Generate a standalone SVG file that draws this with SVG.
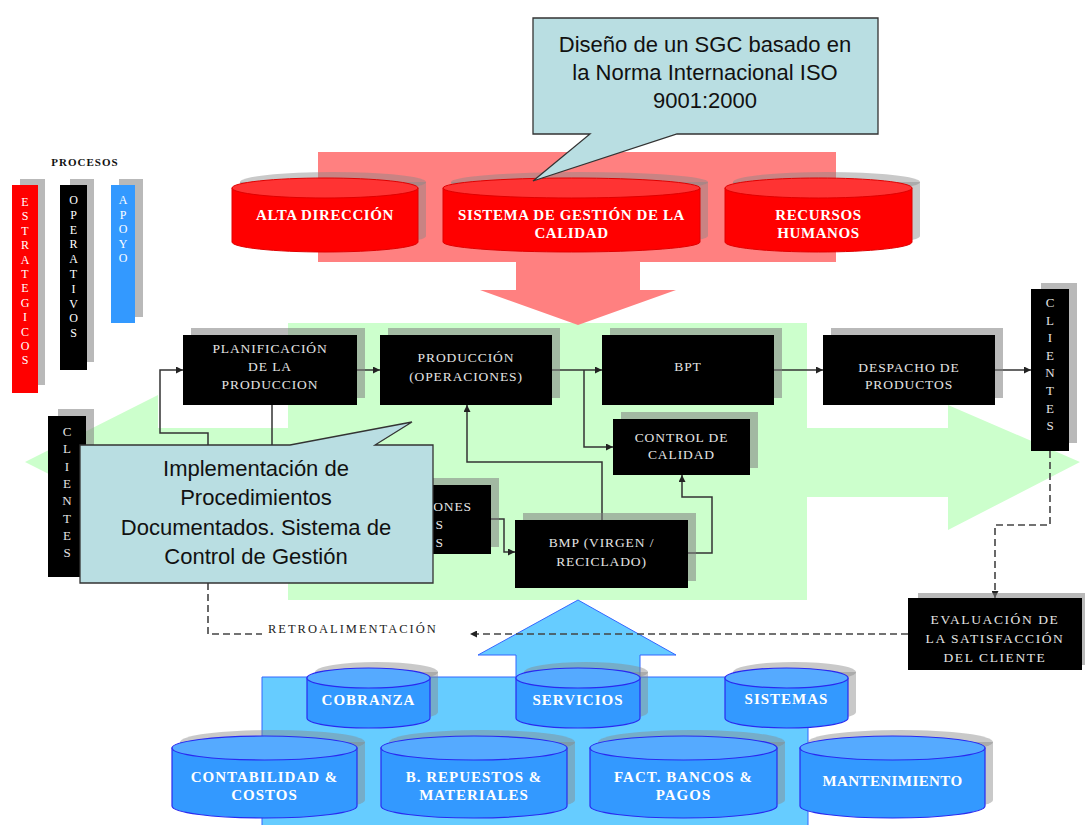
<svg xmlns="http://www.w3.org/2000/svg" width="1085" height="825" viewBox="0 0 1085 825">
  <defs>
    <style>
      .bg { fill: #ffffff; }
      .shadow { fill: #808080; opacity: 0.55; }
      .box { fill: #000000; }
      .boxtxt { font-family: "Liberation Serif", "DejaVu Serif", serif; font-size: 13.5px; fill: #e4e4e4; text-anchor: middle; letter-spacing: 0.9px; }
      .vert { font-family: "Liberation Serif", "DejaVu Serif", serif; font-size: 12px; fill: #ffffff; text-anchor: middle; }
      .vertc { font-family: "Liberation Serif", "DejaVu Serif", serif; font-size: 13px; fill: #e4e4e4; text-anchor: middle; }
      .redtxt { font-family: "Liberation Serif", "DejaVu Serif", serif; font-size: 15px; font-weight: bold; fill: #ffffff; text-anchor: middle; letter-spacing: 0.6px; }
      .bluetxt { font-family: "Liberation Serif", "DejaVu Serif", serif; font-size: 15px; font-weight: bold; fill: #ffffff; text-anchor: middle; letter-spacing: 1px; }
      .call { fill: #b9dee2; stroke: #333333; stroke-width: 1.3; }
      .calltxt { font-family: "Liberation Sans", Arial, sans-serif; font-size: 22px; fill: #111111; text-anchor: middle; }
      .conn { fill: none; stroke: #333333; stroke-width: 1.5; }
      .dash { fill: none; stroke: #444444; stroke-width: 1.6; stroke-dasharray: 7 4; }
      .redcyl { fill: #ff0000; stroke: #e00000; stroke-width: 1; }
      .redtop { fill: #ff3333; stroke: #e00000; stroke-width: 1; }
      .bluecyl { fill: #3399ff; stroke: #2a2af0; stroke-width: 1.2; }
      .bluetop { fill: #55aaff; stroke: #2a2af0; stroke-width: 1.2; }
      .cylshadow { fill: #888888; opacity: 0.45; }
    </style>
    <marker id="ah" viewBox="0 0 8 8" refX="8" refY="4" markerWidth="7" markerHeight="7" markerUnits="userSpaceOnUse" orient="auto">
      <path d="M0,0 L8,4 L0,8 Z" fill="#222222"/>
    </marker>
  </defs>

  <rect class="bg" x="0" y="0" width="1085" height="825"/>

  <!-- background block arrows -->
  <g id="green-area">
    <rect x="288" y="323" width="519" height="277" fill="#ccffcc"/>
    <path d="M25,462 L158,395 V428 H948 V405 L1080,462 L948,530 V497 H158 V529 Z" fill="#ccffcc"/>
  </g>
  <g id="red-arrow">
    <path d="M318,152 H836 V262 H640 V290 H676 L578,325 L480,290 H516 V262 H318 Z" fill="#ff8080"/>
  </g>
  <g id="blue-arrow">
    <path d="M262,830 V677 H516 V655 H478 L578,600 L676,655 H640 V677 H808 V830 Z" fill="#66ccff" stroke="#3366ff" stroke-width="1"/>
  </g>

  <!-- legend -->
  <g id="legend">
    <text x="85" y="166" font-family="Liberation Serif, serif" font-size="11px" font-weight="bold" fill="#111" text-anchor="middle" letter-spacing="1">PROCESOS</text>
  </g>
  <g id="estrategicos">
    <rect class="shadow" x="20" y="179" width="25" height="206"/>
    <rect x="12" y="185" width="26" height="208" fill="#ff0000"/>
    <text class="vert" x="25"><tspan x="25" y="206">E</tspan><tspan x="25" y="220.4">S</tspan><tspan x="25" y="234.8">T</tspan><tspan x="25" y="249.2">R</tspan><tspan x="25" y="263.6">A</tspan><tspan x="25" y="278">T</tspan><tspan x="25" y="292.4">E</tspan><tspan x="25" y="306.8">G</tspan><tspan x="25" y="321.2">I</tspan><tspan x="25" y="335.6">C</tspan><tspan x="25" y="350">O</tspan><tspan x="25" y="364.4">S</tspan></text>
  </g>
  <g id="operativos">
    <rect class="shadow" x="70" y="179" width="24" height="183"/>
    <rect x="60" y="185" width="27" height="185" fill="#000000"/>
    <text class="vert" x="73.5"><tspan x="73.5" y="204">O</tspan><tspan x="73.5" y="218.8">P</tspan><tspan x="73.5" y="233.6">E</tspan><tspan x="73.5" y="248.4">R</tspan><tspan x="73.5" y="263.2">A</tspan><tspan x="73.5" y="278">T</tspan><tspan x="73.5" y="292.8">I</tspan><tspan x="73.5" y="307.6">V</tspan><tspan x="73.5" y="322.4">O</tspan><tspan x="73.5" y="337.2">S</tspan></text>
  </g>
  <g id="apoyo">
    <rect class="shadow" x="119" y="179" width="24" height="138"/>
    <rect x="111" y="185" width="24" height="138" fill="#3399ff"/>
    <text class="vert" x="123"><tspan x="123" y="204">A</tspan><tspan x="123" y="218.6">P</tspan><tspan x="123" y="233.2">O</tspan><tspan x="123" y="247.8">Y</tspan><tspan x="123" y="262.4">O</tspan></text>
  </g>

  <!-- strategic cylinders -->
  <g id="alta-direccion">
    <path class="cylshadow" d="M240,182 V236 A93,10 0 0 0 426,236 V182 Z"/>
    <ellipse class="cylshadow" cx="333" cy="182" rx="93" ry="10"/>
    <path class="redcyl" d="M232,188 V242 A93,10 0 0 0 418,242 V188 Z"/>
    <ellipse class="redtop" cx="325" cy="188" rx="93" ry="10"/>
    <text class="redtxt" x="325" y="220">ALTA DIRECCIÓN</text>
  </g>
  <g id="sistema-gestion">
    <path class="cylshadow" d="M451,182 V236 A128.5,10 0 0 0 708,236 V182 Z"/>
    <ellipse class="cylshadow" cx="579.5" cy="182" rx="128.5" ry="10"/>
    <path class="redcyl" d="M443,188 V242 A128.5,10 0 0 0 700,242 V188 Z"/>
    <ellipse class="redtop" cx="571.5" cy="188" rx="128.5" ry="10"/>
    <text class="redtxt" x="571.5" y="220">SISTEMA DE GESTIÓN DE LA</text>
    <text class="redtxt" x="571.5" y="238">CALIDAD</text>
  </g>
  <g id="recursos-humanos">
    <path class="cylshadow" d="M733,182 V236 A93.5,10 0 0 0 920,236 V182 Z"/>
    <ellipse class="cylshadow" cx="826.5" cy="182" rx="93.5" ry="10"/>
    <path class="redcyl" d="M725,188 V242 A93.5,10 0 0 0 912,242 V188 Z"/>
    <ellipse class="redtop" cx="818.5" cy="188" rx="93.5" ry="10"/>
    <text class="redtxt" x="818.5" y="220">RECURSOS</text>
    <text class="redtxt" x="818.5" y="238">HUMANOS</text>
  </g>

  <!-- connectors -->
  <g id="connectors">
    <path class="conn" d="M357,370 H380" marker-end="url(#ah)"/>
    <path class="conn" d="M552,370 H602" marker-end="url(#ah)"/>
    <path class="conn" d="M774,370 H823" marker-end="url(#ah)"/>
    <path class="conn" d="M995,370 H1031" marker-end="url(#ah)"/>
    <path class="conn" d="M584,370 V447 H613" marker-end="url(#ah)"/>
    <path class="conn" d="M602,520 V462 H467 V405" marker-end="url(#ah)"/>
    <path class="conn" d="M688,553 H712 V497 H682 V475" marker-end="url(#ah)"/>
    <path class="conn" d="M491,519 H504 V552 H515" marker-end="url(#ah)"/>
    <path class="conn" d="M208,450 V433 H160 V370 H183" marker-end="url(#ah)"/>
    <path class="conn" d="M272,405 V450"/>
    <path class="dash" d="M1050,451 V525 H995 V598" marker-end="url(#ah)"/>
    <path class="dash" d="M908,634 H470" marker-end="url(#ah)"/>
    <path class="dash" d="M208,583 V634 H262"/>
    <text x="268" y="633" font-family="Liberation Serif, serif" font-size="12.5px" fill="#222" letter-spacing="2">RETROALIMENTACIÓN</text>
  </g>

  <!-- operative process boxes -->
  <g id="planificacion">
    <rect class="shadow" x="191" y="328" width="174" height="70"/>
    <rect class="box" x="183" y="335" width="174" height="70"/>
    <text class="boxtxt" x="270" y="353">PLANIFICACIÓN</text>
    <text class="boxtxt" x="270" y="371">DE LA</text>
    <text class="boxtxt" x="270" y="389">PRODUCCION</text>
  </g>
  <g id="produccion">
    <rect class="shadow" x="388" y="328" width="172" height="70"/>
    <rect class="box" x="380" y="335" width="172" height="70"/>
    <text class="boxtxt" x="466" y="362">PRODUCCIÓN</text>
    <text class="boxtxt" x="466" y="381">(OPERACIONES)</text>
  </g>
  <g id="bpt">
    <rect class="shadow" x="610" y="328" width="172" height="70"/>
    <rect class="box" x="602" y="335" width="172" height="70"/>
    <text class="boxtxt" x="688" y="371">BPT</text>
  </g>
  <g id="despacho">
    <rect class="shadow" x="831" y="328" width="172" height="70"/>
    <rect class="box" x="823" y="335" width="172" height="70"/>
    <text class="boxtxt" x="909" y="372">DESPACHO DE</text>
    <text class="boxtxt" x="909" y="389">PRODUCTOS</text>
  </g>
  <g id="control-calidad">
    <rect class="shadow" x="621" y="412" width="137" height="56"/>
    <rect class="box" x="613" y="419" width="137" height="56"/>
    <text class="boxtxt" x="681.5" y="442">CONTROL DE</text>
    <text class="boxtxt" x="681.5" y="459">CALIDAD</text>
  </g>
  <g id="bmp">
    <rect class="shadow" x="523" y="513" width="173" height="68"/>
    <rect class="box" x="515" y="520" width="173" height="68"/>
    <text class="boxtxt" x="601.5" y="547">BMP (VIRGEN /</text>
    <text class="boxtxt" x="601.5" y="566">RECICLADO)</text>
  </g>
  <g id="proceso-oculto">
    <rect class="shadow" x="428" y="478" width="71" height="69"/>
    <rect class="box" x="420" y="485" width="71" height="69"/>
    <text class="boxtxt" x="472" y="511" style="text-anchor:end">ONES</text>
    <text class="boxtxt" x="444" y="529" style="text-anchor:end">S</text>
    <text class="boxtxt" x="444" y="547" style="text-anchor:end">S</text>
  </g>
  <g id="clientes-entrada">
    <rect class="shadow" x="58" y="409" width="36" height="161"/>
    <rect class="box" x="48" y="416" width="38" height="161"/>
    <text class="vertc" x="67"><tspan x="67" y="436">C</tspan><tspan x="67" y="453.3">L</tspan><tspan x="67" y="470.6">I</tspan><tspan x="67" y="487.9">E</tspan><tspan x="67" y="505.2">N</tspan><tspan x="67" y="522.5">T</tspan><tspan x="67" y="539.8">E</tspan><tspan x="67" y="557.1">S</tspan></text>
  </g>
  <g id="clientes-salida">
    <rect class="shadow" x="1041" y="283" width="36" height="160"/>
    <rect class="box" x="1031" y="289" width="38" height="162"/>
    <text class="vertc" x="1050"><tspan x="1050" y="307">C</tspan><tspan x="1050" y="324.6">L</tspan><tspan x="1050" y="342.2">I</tspan><tspan x="1050" y="359.8">E</tspan><tspan x="1050" y="377.4">N</tspan><tspan x="1050" y="395">T</tspan><tspan x="1050" y="412.6">E</tspan><tspan x="1050" y="430.2">S</tspan></text>
  </g>
  <g id="evaluacion">
    <rect class="shadow" x="918" y="593" width="167" height="72"/>
    <rect class="box" x="908" y="598" width="174" height="72"/>
    <text class="boxtxt" x="995" y="624" style="letter-spacing:1.6px">EVALUACIÓN DE</text>
    <text class="boxtxt" x="995" y="643" style="letter-spacing:1.6px">LA SATISFACCIÓN</text>
    <text class="boxtxt" x="995" y="662" style="letter-spacing:1.6px">DEL CLIENTE</text>
  </g>

  <!-- support cylinders -->
  <g id="cobranza">
    <path class="cylshadow" d="M315,672 V712 A61.5,10 0 0 0 438,712 V672 Z"/>
    <ellipse class="cylshadow" cx="376.5" cy="672" rx="61.5" ry="10"/>
    <path class="bluecyl" d="M307,678 V718 A61.5,10 0 0 0 430,718 V678 Z"/>
    <ellipse class="bluetop" cx="368.5" cy="678" rx="61.5" ry="10"/>
    <text class="bluetxt" x="368.5" y="705">COBRANZA</text>
  </g>
  <g id="servicios">
    <path class="cylshadow" d="M524,672 V712 A62,10 0 0 0 648,712 V672 Z"/>
    <ellipse class="cylshadow" cx="586" cy="672" rx="62" ry="10"/>
    <path class="bluecyl" d="M516,678 V718 A62,10 0 0 0 640,718 V678 Z"/>
    <ellipse class="bluetop" cx="578" cy="678" rx="62" ry="10"/>
    <text class="bluetxt" x="578" y="705">SERVICIOS</text>
  </g>
  <g id="sistemas">
    <path class="cylshadow" d="M733,672 V712 A61.5,10 0 0 0 856,712 V672 Z"/>
    <ellipse class="cylshadow" cx="794.5" cy="672" rx="61.5" ry="10"/>
    <path class="bluecyl" d="M725,678 V718 A61.5,10 0 0 0 848,718 V678 Z"/>
    <ellipse class="bluetop" cx="786.5" cy="678" rx="61.5" ry="10"/>
    <text class="bluetxt" x="786.5" y="704">SISTEMAS</text>
  </g>
  <g id="contabilidad">
    <path class="cylshadow" d="M180,742 V800 A92.5,12 0 0 0 365,800 V742 Z"/>
    <ellipse class="cylshadow" cx="272.5" cy="742" rx="92.5" ry="12"/>
    <path class="bluecyl" d="M172,748 V806 A92.5,12 0 0 0 357,806 V748 Z"/>
    <ellipse class="bluetop" cx="264.5" cy="748" rx="92.5" ry="12"/>
    <text class="bluetxt" x="264.5" y="782">CONTABILIDAD &amp;</text>
    <text class="bluetxt" x="264.5" y="800">COSTOS</text>
  </g>
  <g id="repuestos">
    <path class="cylshadow" d="M389,742 V800 A93,12 0 0 0 575,800 V742 Z"/>
    <ellipse class="cylshadow" cx="482" cy="742" rx="93" ry="12"/>
    <path class="bluecyl" d="M381,748 V806 A93,12 0 0 0 567,806 V748 Z"/>
    <ellipse class="bluetop" cx="474" cy="748" rx="93" ry="12"/>
    <text class="bluetxt" x="474" y="782">B. REPUESTOS &amp;</text>
    <text class="bluetxt" x="474" y="800">MATERIALES</text>
  </g>
  <g id="facturacion">
    <path class="cylshadow" d="M598,742 V800 A93.5,12 0 0 0 785,800 V742 Z"/>
    <ellipse class="cylshadow" cx="691.5" cy="742" rx="93.5" ry="12"/>
    <path class="bluecyl" d="M590,748 V806 A93.5,12 0 0 0 777,806 V748 Z"/>
    <ellipse class="bluetop" cx="683.5" cy="748" rx="93.5" ry="12"/>
    <text class="bluetxt" x="683.5" y="782">FACT. BANCOS &amp;</text>
    <text class="bluetxt" x="683.5" y="800">PAGOS</text>
  </g>
  <g id="mantenimiento">
    <path class="cylshadow" d="M808,742 V800 A92.5,12 0 0 0 993,800 V742 Z"/>
    <ellipse class="cylshadow" cx="900.5" cy="742" rx="92.5" ry="12"/>
    <path class="bluecyl" d="M800,748 V806 A92.5,12 0 0 0 985,806 V748 Z"/>
    <ellipse class="bluetop" cx="892.5" cy="748" rx="92.5" ry="12"/>
    <text class="bluetxt" x="892.5" y="786" style="letter-spacing:0.4px">MANTENIMIENTO</text>
  </g>

  <!-- callouts -->
  <g id="callout-sgc">
    <path class="call" d="M533,18 H878 V134 H677 L533,181 L590,134 H533 Z"/>
    <text class="calltxt" x="705" y="52">Diseño de un SGC basado en</text>
    <text class="calltxt" x="705" y="80">la Norma Internacional ISO</text>
    <text class="calltxt" x="705" y="108">9001:2000</text>
  </g>
  <g id="callout-procedimientos">
    <path class="call" d="M80,445 H290 L412,422 L375,445 H433 V583 H80 Z"/>
    <text class="calltxt" x="256" y="476">Implementación de</text>
    <text class="calltxt" x="256" y="505">Procedimientos</text>
    <text class="calltxt" x="256" y="535">Documentados. Sistema de</text>
    <text class="calltxt" x="256" y="564">Control de Gestión</text>
  </g>
</svg>
